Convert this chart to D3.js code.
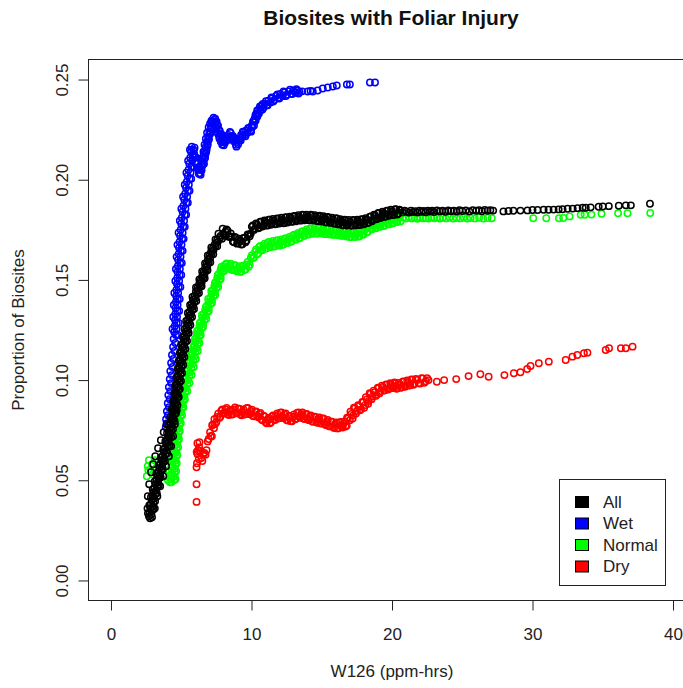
<!DOCTYPE html>
<html>
<head>
<meta charset="utf-8">
<script src="https://cdn.jsdelivr.net/npm/d3@7"></script>
<style>
body { margin:0; background:#fff; }
svg { display:block; font-family: "Liberation Sans", Arial, sans-serif; }
</style>
</head>
<body>
<svg id="drawing_region"></svg>
<script>
const categories = ["All", "Wet", "Normal", "Dry"];
const colors = ["#000000", "#0000ff", "#00ff00", "#ff0000"];
const xTicks = [0, 10, 20, 30, 40];
const yTicks = [0, 0.05, 0.10, 0.15, 0.20, 0.25];

// W126 (ppm-hrs), proportion of biosites
const allPts = [
 [2.6,.036],[2.62,.042],[2.72,.048],[2.85,.054],[3.0,.058],[3.15,.062],[3.35,.066],[3.55,.070],[3.75,.074],[3.95,.078],
 [3.12,.036],[3.3,.042],[3.5,.047],[3.72,.052],[3.92,.057],[4.12,.062],[4.28,.067],[4.42,.072],[4.55,.078],[4.68,.085],
 [2.78,.031],[2.70,.032],[2.88,.033],[2.74,.034],[2.92,.035],[2.80,.036],[2.98,.037],[2.84,.038],[3.02,.039],[2.90,.040],
 [3.08,.041],[2.96,.042],[3.14,.043],[3.02,.044],[3.22,.045],[3.08,.046],[3.28,.047],[3.16,.048],[3.36,.049],[3.24,.050],
 [3.42,.051],[3.30,.052],[3.48,.053],[3.36,.054],[3.56,.055],[3.44,.056],[3.64,.057],[3.52,.058],[3.72,.059],[3.60,.060],
 [3.80,.061],[3.68,.062],[3.88,.063],[3.76,.064],[3.96,.065],[3.84,.066],[4.04,.067],[3.94,.068],[4.10,.069],[4.00,.070],
 [4.16,.071],[4.06,.072],[4.22,.073],[4.12,.074],[4.28,.075],[4.18,.076],[4.34,.077],[4.24,.078],[4.40,.079],[4.30,.080],
 [4.46,.081],[4.36,.082],[4.50,.083],[4.40,.084],[4.56,.085],[4.46,.086],[4.60,.087],[4.50,.088],[4.66,.089],[4.54,.090],
 [4.70,.091],[4.58,.092],[4.74,.093],[4.62,.094],[4.78,.095],[4.66,.096],[4.82,.097],[4.70,.098],[4.86,.099],[4.74,.100],
 [4.90,.101],[4.78,.102],[4.94,.103],[4.82,.104],[4.98,.105],[4.86,.106],[5.02,.107],[4.90,.108],[5.06,.109],[4.94,.110],
 [5.10,.111],[4.98,.112],[5.14,.113],[5.02,.114],[5.18,.115],[5.06,.116],[5.22,.117],[5.12,.118],[5.28,.119],[5.18,.120],
 [5.34,.121],[5.24,.122],[5.40,.123],[5.30,.124],[5.46,.125],[5.36,.126],[5.52,.127],[5.42,.128],[5.58,.129],[5.48,.130],
 [5.64,.131],[5.54,.132],[5.70,.133],[5.60,.134],[5.78,.135],[5.68,.136],[5.86,.137],[5.76,.138],[5.94,.139],[5.84,.140],
 [6.02,.141],[5.94,.142],[6.12,.143],[6.04,.144],[6.22,.145],[6.16,.146],[6.34,.147],[6.28,.148],[6.46,.149],[6.40,.150],
 [6.56,.151],[6.50,.152],[6.66,.153],[6.60,.154],[6.76,.155],[6.70,.156],[6.86,.157],[6.80,.158],[6.96,.159],[6.90,.160],
 [7.06,.161],[7.00,.162],[7.16,.163],[7.12,.164],[7.30,.165],[7.26,.166],[7.44,.167],[7.40,.168],[7.60,.169],[7.56,.170],
 [7.76,.171],[7.80,.172],[8.00,.173],[8.15,.174],
 [2.92,.0315],[2.63,.0335],[3.04,.0355],[2.73,.0375],[3.14,.0395],[2.84,.0415],[3.26,.0435],[2.97,.0455],[3.40,.0475],[3.12,.0495],
 [3.54,.0515],[3.24,.0535],[3.68,.0555],[3.40,.0575],[3.84,.0595],[3.56,.0615],[4.00,.0635],[3.72,.0655],[4.17,.0675],[3.87,.0695],
 [4.29,.0715],[3.99,.0735],[4.41,.0755],[4.11,.0775],[4.53,.0795],[4.23,.0815],[4.63,.0835],[4.33,.0855],[4.73,.0875],[4.42,.0895],
 [4.82,.0915],[4.50,.0935],[4.90,.0955],[4.58,.0975],[4.98,.0995],[4.66,.1015],[5.06,.1035],[4.74,.1055],[5.14,.1075],[4.82,.1095],
 [5.22,.1115],[4.90,.1135],[5.30,.1155],[4.99,.1175],[5.41,.1195],[5.11,.1215],[5.53,.1235],[5.23,.1255],[5.65,.1275],[5.35,.1295],
 [5.77,.1315],[5.47,.1335],[5.91,.1355],[5.63,.1375],[6.07,.1395],[5.80,.1415],[6.26,.1435],[6.05,.1462],[6.45,.1468],[6.29,.1502],
 [6.67,.1508],[6.49,.1542],[6.87,.1548],[6.69,.1582],[7.07,.1588],[6.89,.1622],[7.28,.1628],[7.14,.1662],[7.56,.1668],[7.44,.1702],
 [7.90,.1705],[7.65,.1730],[7.95,.1755],[8.10,.1720],
 [8.30,.1745],[8.45,.1715],[8.60,.1716],[8.75,.1688],[8.90,.1709],[9.05,.1683],[9.20,.1696],[9.35,.1678],[9.50,.1710],[9.65,.1697],
 [9.80,.1726],[9.95,.1731],[10.10,.1772],[10.25,.1756],[10.40,.1776],[10.55,.1760],[10.70,.1790],[10.85,.1771],[11.00,.1791],[11.15,.1772],
 [11.30,.1800],[11.45,.1780],[11.60,.1797],[11.75,.1779],[11.90,.1806],[12.05,.1785],[12.20,.1803],[12.35,.1784],[12.50,.1812],[12.65,.1791],
 [12.80,.1809],[12.95,.1791],[13.10,.1818],[13.25,.1798],[13.40,.1816],[13.55,.1797],[13.70,.1824],[13.85,.1802],[14.00,.1818],[14.15,.1798],
 [14.30,.1823],[14.45,.1800],[14.60,.1815],[14.75,.1794],[14.90,.1818],[15.05,.1795],[15.20,.1809],[15.35,.1787],[15.50,.1812],[15.65,.1788],
 [15.80,.1802],[15.95,.1781],[16.10,.1805],[16.25,.1780],[16.40,.1794],[16.55,.1773],[16.70,.1798],[16.85,.1775],[17.00,.1791],[17.15,.1771],
 [17.30,.1798],[17.45,.1777],[17.60,.1794],[17.75,.1775],[17.90,.1802],[18.05,.1782],[18.20,.1802],[18.35,.1786],[18.50,.1817],[18.65,.1800],
 [18.80,.1821],[18.95,.1805],[19.10,.1834],[19.25,.1815],[19.40,.1834],[19.55,.1816],[19.70,.1845],[19.85,.1825],[20.00,.1843],[20.15,.1825],
 [20.30,.1852],[20.45,.1831],[20.60,.1847],
 [8.225,.1752],[8.375,.1715],[8.525,.1732],[8.675,.1692],[8.825,.1714],[8.975,.1681],[9.125,.1706],[9.275,.1677],[9.425,.1709],[9.575,.1688],
 [9.725,.1727],[9.875,.1718],[10.025,.1766],[10.175,.1749],[10.325,.1782],[10.475,.1758],[10.625,.1790],[10.775,.1766],[10.925,.1797],[11.075,.1771],
 [11.225,.1801],[11.375,.1775],[11.525,.1804],[11.675,.1778],[11.825,.1807],[11.975,.1781],[12.125,.1810],[12.275,.1783],[12.425,.1813],[12.575,.1786],
 [12.725,.1816],[12.875,.1790],[13.025,.1819],[13.175,.1793],[13.325,.1823],[13.475,.1796],[13.625,.1825],[13.775,.1798],[13.925,.1826],[14.075,.1798],
 [14.225,.1825],[14.375,.1796],[14.525,.1823],[14.675,.1794],[14.825,.1821],[14.975,.1791],[15.125,.1818],[15.275,.1788],[15.425,.1814],[15.575,.1785],
 [15.725,.1811],[15.875,.1781],[16.025,.1808],[16.175,.1777],[16.325,.1803],[16.475,.1773],[16.625,.1800],[16.775,.1771],[16.925,.1799],[17.075,.1771],
 [17.225,.1799],[17.375,.1772],[17.525,.1801],[17.675,.1774],[17.825,.1803],[17.975,.1777],[18.125,.1808],[18.275,.1784],[18.425,.1816],[18.575,.1793],
 [18.725,.1826],[18.875,.1803],[19.025,.1834],[19.175,.1809],[19.325,.1840],[19.475,.1815],[19.625,.1845],[19.775,.1820],[19.925,.1850],[20.075,.1824],
 [20.225,.1853],[20.375,.1826],[20.525,.1850],
 [20.75,.1838],[20.90,.1846],[21.05,.1840],[21.20,.1836],[21.35,.1845],[21.50,.1839],[21.65,.1843],[21.80,.1837],[21.95,.1846],[22.10,.1840],
 [22.25,.1844],[22.40,.1838],[22.55,.1846],[22.70,.1841],[22.85,.1845],[23.00,.1839],[23.20,.1847],[23.40,.1842],[23.60,.1846],[23.80,.1840],
 [24.00,.1847],[24.20,.1843],[24.40,.1846],[24.60,.1841],[24.80,.1848],[25.00,.1844],[25.25,.1847],[25.50,.1842],[25.75,.1848],[26.00,.1845],
 [26.20,.1848],[26.40,.1843],[26.60,.1849],[26.80,.1845],[27.00,.1848],[27.20,.1846],
 [27.93,.1842],[28.29,.1844],[28.64,.1845],[29.14,.1846],[29.64,.1847],[30.00,.1849],[30.36,.1849],[30.79,.1850],[31.14,.1850],[31.50,.1851],
 [31.86,.1852],[32.14,.1853],[32.50,.1855],[32.86,.1856],[33.21,.1858],[33.57,.1860],[33.79,.1860],[34.14,.1862],[34.71,.1865],[35.00,.1866],
 [35.43,.1868],[36.14,.1870],[36.64,.1872],[37.00,.1872],[38.36,.1880]
];

const wetPts = [
 [3.90,.0765],[4.00,.0785],[3.92,.0805],[4.05,.0825],[3.98,.0845],[4.12,.0865],[4.04,.0885],[4.18,.0905],[4.08,.0925],[4.22,.0945],
 [4.12,.0965],[4.28,.0985],[4.18,.1005],[4.32,.1025],[4.22,.1045],[4.38,.1065],[4.28,.1085],[4.44,.1105],[4.34,.1125],[4.52,.1145],
 [4.42,.1165],[4.58,.1185],[4.46,.1205],[4.62,.1225],[4.50,.1240],[4.66,.1255],[4.54,.1270],[4.68,.1285],[4.56,.1300],[4.70,.1315],
 [4.58,.1330],[4.72,.1345],[4.60,.1360],[4.74,.1375],[4.62,.1390],[4.76,.1405],[4.64,.1420],[4.78,.1435],[4.66,.1450],[4.82,.1465],
 [4.70,.1480],[4.85,.1495],[4.72,.1510],[4.88,.1525],[4.74,.1540],[4.90,.1555],[4.76,.1570],[4.92,.1585],[4.78,.1600],[4.95,.1615],
 [4.82,.1630],[4.98,.1645],[4.84,.1660],[5.02,.1675],[4.88,.1690],[5.06,.1705],[4.92,.1720],[5.10,.1735],[4.96,.1750],[5.14,.1765],
 [5.00,.1780],[5.20,.1795],[5.04,.1810],[5.25,.1825],[5.10,.1840],[5.30,.1855],[5.16,.1870],[5.36,.1885],[5.22,.1900],[5.42,.1915],
 [5.28,.1930],[5.48,.1945],[5.34,.1960],[5.54,.1975],[5.40,.1990],[5.60,.2005],[5.46,.2020],[5.66,.2035],[5.52,.2050],[5.72,.2065],
 [5.58,.2080],[5.78,.2095],[5.64,.2110],[5.80,.2125],[5.70,.2140],[5.85,.2150],
 [4.76,.1225],[4.38,.1255],[4.82,.1285],[4.43,.1315],[4.85,.1345],[4.47,.1375],[4.89,.1405],[4.51,.1435],[4.94,.1465],[4.58,.1495],
 [5.00,.1525],[4.62,.1555],[5.04,.1585],[4.67,.1615],[5.10,.1645],[4.73,.1675],[5.17,.1705],[4.81,.1735],[5.25,.1765],[4.90,.1795],
 [5.35,.1825],[5.01,.1855],[5.47,.1885],[5.13,.1915],[5.59,.1945],[5.25,.1975],[5.71,.2005],[5.37,.2035],[5.83,.2065],[5.49,.2095],
 [5.93,.2125],[5.62,.2150],[5.75,.2165],[5.88,.2128],
 [5.90,.2146],[5.97,.2112],[6.03,.2113],[6.08,.2080],[6.14,.2080],[6.20,.2050],[6.27,.2056],[6.34,.2032],[6.40,.2054],[6.45,.2047],
 [6.49,.2068],[6.55,.2080],[6.52,.2093],[6.64,.2104],[6.60,.2116],[6.73,.2128],[6.68,.2140],[6.81,.2152],[6.75,.2165],[6.89,.2178],
 [6.83,.2190],[6.97,.2203],[6.91,.2215],[7.05,.2228],[7.00,.2240],[7.14,.2252],[7.10,.2264],[7.25,.2275],[7.24,.2291],[7.35,.2298],
 [7.42,.2280],[7.46,.2290],[7.55,.2272],[7.52,.2258],[7.67,.2250],[7.58,.2236],[7.78,.2226],[7.70,.2216],[7.87,.2208],[7.95,.2187],
 [5.95,.2160],[6.00,.2090],[6.12,.2060],[6.25,.2030],[6.38,.2025],[6.32,.2060],
 [6.62,.2080],[6.42,.2075],[6.70,.2110],[6.50,.2110],[6.78,.2140],[6.58,.2140],[6.86,.2170],[6.66,.2175],[6.95,.2200],[6.75,.2205],
 [7.04,.2230],[6.84,.2235],[7.12,.2258],[6.95,.2262],[7.18,.2290],[7.05,.2280],[7.30,.2310],[7.15,.2295],
 [7.42,.2305],[7.52,.2290],[7.62,.2270],[7.74,.2245],[7.85,.2228],[7.92,.2210],[7.62,.2230],[7.72,.2205],[7.82,.2190],[7.92,.2175],
 [8.03,.2172],[8.10,.2205],
 [8.03,.2198],[8.11,.2185],[8.19,.2208],[8.27,.2200],[8.35,.2224],[8.43,.2215],[8.52,.2234],[8.60,.2212],[8.67,.2218],[8.74,.2192],
 [8.81,.2198],[8.89,.2174],[8.97,.2188],[9.05,.2177],[9.12,.2203],[9.19,.2197],[9.26,.2223],[9.34,.2215],[9.43,.2236],[9.52,.2225],
 [9.62,.2246],[9.72,.2235],[9.82,.2256],[9.92,.2246],[10.01,.2270],[10.08,.2264],[10.14,.2292],[10.22,.2290],[10.22,.2304],[10.33,.2316],
 [10.34,.2330],[10.48,.2331],[10.54,.2352],[10.66,.2347],[10.72,.2368],[10.86,.2360],[10.95,.2380],[11.09,.2372],[11.20,.2394],[11.35,.2386],
 [11.47,.2406],[11.63,.2398],[11.75,.2418],[11.92,.2409],[12.05,.2428],[12.22,.2417],[12.35,.2436],[12.52,.2424],[12.65,.2441],[12.82,.2429],
 [12.97,.2445],[13.12,.2434],[13.27,.2446],[13.42,.2438],
 [8.15,.2211],[8.31,.2198],[8.47,.2239],[8.63,.2203],[8.78,.2209],[8.93,.2165],[9.08,.2199],[9.23,.2196],[9.38,.2240],[9.57,.2217],
 [9.77,.2259],[9.97,.2240],[10.11,.2290],[10.18,.2270],[10.28,.2322],[10.30,.2295],[10.41,.2346],[10.42,.2315],[10.60,.2366],[10.53,.2330],
 [10.80,.2378],[10.78,.2350],[11.03,.2392],[11.15,.2372],[11.42,.2410],[11.55,.2390],[11.84,.2426],[11.98,.2405],[12.28,.2440],[12.45,.2418],
 [12.74,.2449],[12.90,.2428],[13.20,.2452],[13.35,.2430],
 [13.60,.2441],[14.00,.2440],[14.20,.2443],[14.36,.2440],[14.71,.2445],[15.07,.2455],[15.43,.2460],[15.79,.2465],[16.07,.2470],[16.79,.2475],
 [17.00,.2475],[18.43,.2485],[18.79,.2485]
];

const normalPts = [
 [2.55,.052],[2.62,.057],[2.70,.060],[2.66,.055],[2.82,.055],[2.92,.058],[2.95,.053],[3.10,.060],[3.20,.056],[3.35,.059],
 [3.50,.058],[3.70,.055],[3.90,.052],[4.05,.050],[4.20,.049],[4.15,.054],[3.95,.058],
 [4.30,.049],[4.50,.050],[4.31,.051],[4.52,.052],[4.33,.053],[4.54,.054],[4.35,.055],[4.56,.056],[4.37,.057],[4.58,.058],
 [4.39,.059],[4.60,.060],[4.42,.061],[4.63,.062],[4.44,.063],[4.65,.064],[4.47,.065],[4.68,.066],[4.50,.067],[4.71,.068],
 [4.53,.069],[4.75,.070],[4.56,.071],[4.78,.072],[4.59,.073],[4.81,.074],[4.62,.075],[4.84,.076],[4.65,.077],[4.87,.078],
 [4.68,.079],[4.90,.080],[4.72,.081],[4.95,.082],[4.78,.083],[5.00,.084],[4.82,.085],[5.05,.086],[4.88,.087],[5.10,.088],
 [4.93,.089],[5.15,.090],[5.00,.091],[5.22,.092],[5.06,.093],[5.29,.094],[5.13,.095],[5.36,.096],[5.20,.097],[5.43,.098],
 [5.27,.099],[5.50,.100],[5.34,.101],[5.57,.102],[5.41,.103],[5.65,.104],[5.49,.105],[5.72,.106],[5.56,.107],[5.80,.108],
 [5.64,.109],[5.87,.110],[5.71,.111],[5.95,.112],[5.79,.113],[6.02,.114],[5.86,.115],[6.10,.116],[5.93,.117],[6.16,.118],
 [5.99,.119],[6.22,.120],[6.06,.121],[6.28,.122],[6.12,.123],[6.35,.124],[6.21,.125],[6.45,.126],[6.30,.127],[6.55,.128],
 [6.40,.129],[6.65,.130],[6.50,.131],[6.75,.132],[6.60,.133],[6.85,.134],[6.70,.135],[6.95,.136],[6.82,.137],[7.07,.138],
 [6.94,.139],[7.18,.140],[7.06,.141],[7.30,.142],[7.16,.143],[7.40,.144],[7.26,.145],[7.50,.146],[7.36,.147],[7.60,.148],
 [7.46,.149],[7.70,.150],[7.56,.151],[7.80,.152],[7.67,.153],[7.90,.154],[7.80,.155],[8.05,.156],[8.00,.157],
 [4.60,.0505],[4.24,.0525],[4.64,.0545],[4.28,.0565],[4.68,.0585],[4.34,.0605],[4.72,.0625],[4.38,.0645],[4.78,.0665],[4.44,.0685],
 [4.84,.0705],[4.50,.0725],[4.90,.0745],[4.56,.0765],[4.97,.0785],[4.65,.0805],[5.06,.0825],[4.74,.0845],[5.15,.0865],[4.84,.0885],
 [5.26,.0905],[4.98,.0925],[5.43,.0945],[5.12,.0965],[5.59,.0985],[5.27,.1005],[5.74,.1025],[5.41,.1045],[5.89,.1065],[5.56,.1085],
 [6.04,.1105],[5.70,.1125],[6.18,.1145],[5.87,.1165],[6.29,.1185],[5.97,.1205],[6.39,.1225],[6.12,.1245],[6.55,.1265],[6.32,.1285],
 [6.78,.1305],[6.47,.1325],[6.96,.1345],[6.75,.1365],[7.19,.1385],[6.92,.1405],[7.42,.1425],[7.14,.1445],[7.63,.1465],[7.40,.1485],
 [7.81,.1505],[7.60,.1525],[8.05,.1545],[7.85,.1565],
 [8.15,.1577],[8.30,.1560],[8.45,.1574],[8.60,.1551],[8.75,.1573],[8.90,.1548],[9.05,.1561],[9.20,.1541],[9.35,.1567],[9.50,.1551],
 [9.65,.1577],[9.80,.1566],[9.95,.1611],[10.10,.1608],[10.25,.1640],[10.40,.1628],[10.55,.1664],[10.70,.1649],[10.85,.1670],[11.00,.1656],
 [11.15,.1685],[11.30,.1666],[11.45,.1685],[11.60,.1667],[11.75,.1695],[11.90,.1674],[12.05,.1692],[12.20,.1675],[12.35,.1704],[12.50,.1685],
 [12.65,.1706],[12.80,.1690],[12.95,.1721],[13.10,.1703],[13.25,.1724],[13.40,.1708],[13.55,.1739],[13.70,.1721],[13.85,.1742],[14.00,.1726],
 [14.15,.1754],[14.30,.1733],[14.45,.1751],[14.60,.1731],[14.75,.1757],[14.90,.1735],[15.05,.1751],[15.20,.1729],[15.35,.1754],[15.50,.1730],
 [15.65,.1746],[15.80,.1725],[15.95,.1750],[16.10,.1727],[16.25,.1742],[16.40,.1720],[16.55,.1745],[16.70,.1721],[16.85,.1736],[17.00,.1714],
 [17.15,.1740],[17.30,.1718],[17.45,.1734],[17.60,.1716],[17.75,.1745],[17.90,.1727],[18.05,.1749],[18.20,.1736],[18.35,.1770],[18.50,.1755],
 [18.65,.1774],[18.80,.1757],[18.95,.1786],[19.10,.1767],[19.25,.1786],[19.40,.1769],[19.55,.1798],[19.70,.1779],[19.85,.1798],[20.00,.1781],
 [20.15,.1810],[20.30,.1791],[20.45,.1810],[20.60,.1792],
 [8.225,.1582],[8.375,.1555],[8.525,.1581],[8.675,.1549],[8.825,.1574],[8.975,.1542],[9.125,.1569],[9.275,.1541],[9.425,.1572],[9.575,.1552],
 [9.725,.1589],[9.875,.1576],[10.025,.1623],[10.175,.1612],[10.325,.1652],[10.475,.1633],[10.625,.1670],[10.775,.1648],[10.925,.1681],[11.075,.1658],
 [11.225,.1689],[11.375,.1664],[11.525,.1694],[11.675,.1668],[11.825,.1698],[11.975,.1671],[12.125,.1702],[12.275,.1677],[12.425,.1708],[12.575,.1684],
 [12.725,.1716],[12.875,.1693],[13.025,.1725],[13.175,.1702],[13.325,.1734],[13.475,.1711],[13.625,.1743],[13.775,.1720],[13.925,.1752],[14.075,.1727],
 [14.225,.1757],[14.375,.1730],[14.525,.1759],[14.675,.1731],[14.825,.1759],[14.975,.1731],[15.125,.1758],[15.275,.1729],[15.425,.1755],[15.575,.1726],
 [15.725,.1754],[15.875,.1725],[16.025,.1752],[16.175,.1723],[16.325,.1749],[16.475,.1720],[16.625,.1746],[16.775,.1717],[16.925,.1743],[17.075,.1714],
 [17.225,.1742],[17.375,.1714],[17.525,.1743],[17.675,.1718],[17.825,.1749],[17.975,.1726],[18.125,.1761],[18.275,.1740],[18.425,.1776],[18.575,.1753],
 [18.725,.1784],[18.875,.1759],[19.025,.1790],[19.175,.1765],[19.325,.1796],[19.475,.1771],[19.625,.1802],[19.775,.1777],[19.925,.1808],[20.075,.1783],
 [20.225,.1814],[20.375,.1789],[20.525,.1819],
 [20.80,.1812],[21.00,.1806],[21.20,.1813],[21.40,.1807],[21.60,.1811],[21.80,.1805],[22.00,.1812],[22.20,.1807],[22.40,.1810],[22.60,.1806],
 [22.80,.1812],[23.00,.1808],[23.20,.1811],[23.40,.1806],[23.60,.1810],[23.85,.1807],[24.10,.1811],[24.35,.1806],[24.60,.1809],[24.85,.1807],
 [25.10,.1811],[25.35,.1806],[25.60,.1809],[25.90,.1807],[26.20,.1810],[26.50,.1806],[26.80,.1809],[27.10,.1808],
 [30.05,.1808],[30.98,.1808],[31.88,.1808],[32.19,.1809],[32.64,.1817],[33.43,.1825],[33.71,.1825],[34.19,.1826],[34.91,.1830],[36.09,.1833],
 [36.76,.1833],[38.38,.1834]
];

const dryPts = [
 [6.09,.0392],[6.09,.0480],[6.09,.0565],[6.12,.0585],[6.25,.0605],[6.30,.0690],[6.15,.0685],
 [6.10,.0642],[6.20,.0650],[6.35,.0646],[6.50,.0596],[6.65,.0637],[6.80,.0650],[6.95,.0706],[7.10,.0721],[7.25,.0777],[7.40,.0780],
 [7.55,.0816],[7.70,.0811],[7.85,.0847],[8.00,.0835],[8.15,.0854],[8.30,.0831],[8.45,.0847],[8.60,.0828],[8.75,.0854],[8.90,.0836],
 [9.05,.0857],[9.20,.0830],[9.35,.0841],[9.50,.0828],[9.65,.0860],[9.80,.0835],[9.95,.0846],[10.10,.0821],[10.25,.0842],[10.40,.0820],
 [10.55,.0831],[10.70,.0804],[10.85,.0822],[11.00,.0790],[11.15,.0801],[11.30,.0784],[11.45,.0817],[11.60,.0802],[11.75,.0824],[11.90,.0808],
 [12.05,.0837],[12.20,.0815],[12.35,.0828],[12.50,.0801],[12.65,.0820],[12.80,.0795],[12.95,.0816],[13.10,.0804],[13.25,.0836],[13.40,.0816],
 [13.55,.0831],[13.70,.0808],[13.85,.0830],[14.00,.0805],[14.15,.0818],[14.30,.0794],[14.45,.0816],[14.60,.0792],[14.75,.0806],[14.90,.0784],
 [15.05,.0807],[15.20,.0782],[15.35,.0794],[15.50,.0771],[15.65,.0792],[15.80,.0766],[15.95,.0780],[16.10,.0759],[16.25,.0787],[16.40,.0768],
 [16.55,.0782],[16.70,.0768],[16.85,.0807],[17.00,.0800],[17.12,.0831],[17.24,.0824],[17.36,.0860],[17.50,.0846],[17.65,.0868],[17.80,.0854],
 [17.95,.0888],[18.10,.0876],[18.22,.0904],[18.34,.0896],[18.48,.0932],[18.62,.0918],[18.76,.0940],[18.90,.0926],[19.05,.0960],[19.20,.0945],
 [19.35,.0966],[19.50,.0949],[19.65,.0977],[19.80,.0958],[19.95,.0978],[20.10,.0961],[20.25,.0984],[20.40,.0960],[20.55,.0980],[20.70,.0964],
 [20.85,.0992],[21.00,.0972],[21.15,.0991],[21.30,.0974],[21.45,.1002],[21.60,.0982],[21.80,.1001],[22.00,.0983],[22.20,.1008],[22.40,.0994],
 [22.60,.1000],
 [6.15,.0631],[6.28,.0664],[6.43,.0611],[6.58,.0631],[6.73,.0628],[6.88,.0694],
 [7.05,.0740],[7.18,.0720],[7.20,.0775],[7.33,.0760],[7.36,.0805],[7.50,.0790],
 [7.63,.0832],[7.78,.0816],[7.93,.0854],[8.08,.0833],[8.23,.0861],[8.38,.0826],[8.53,.0851],[8.68,.0829],[8.83,.0863],[8.98,.0834],
 [9.13,.0857],[9.28,.0824],[9.43,.0853],[9.58,.0831],[9.73,.0861],[9.88,.0829],[10.03,.0852],[10.18,.0819],[10.33,.0844],[10.48,.0814],
 [10.63,.0836],[10.78,.0800],[10.93,.0819],[11.08,.0784],[11.23,.0811],[11.38,.0788],[11.53,.0823],[11.68,.0801],[11.83,.0834],[11.98,.0810],
 [12.13,.0839],[12.28,.0810],[12.43,.0833],[12.58,.0798],[12.73,.0821],[12.88,.0794],[13.03,.0828],[13.18,.0807],[13.33,.0839],[13.48,.0812],
 [13.63,.0838],[13.78,.0806],[13.93,.0831],[14.08,.0800],[14.23,.0824],[14.38,.0792],[14.53,.0817],[14.68,.0787],[14.83,.0813],[14.98,.0783],
 [15.13,.0808],[15.28,.0776],[15.43,.0801],[15.58,.0769],[15.73,.0792],[15.88,.0761],[16.03,.0788],[16.18,.0760],[16.33,.0791],[16.48,.0763],
 [16.63,.0793],[16.78,.0774],
 [16.80,.0812],[17.20,.0808],[17.04,.0842],[17.44,.0833],[17.29,.0862],[17.72,.0849],[17.59,.0875],[18.02,.0862],[17.89,.0891],[18.30,.0882],
 [18.14,.0914],[18.55,.0905],[18.41,.0934],[18.83,.0921],[18.69,.0947],[19.12,.0934],[18.99,.0962],
 [19.28,.0972],[19.43,.0948],[19.58,.0978],[19.73,.0953],[19.88,.0984],[20.03,.0960],[20.18,.0988],[20.33,.0957],[20.48,.0986],[20.63,.0962],
 [20.78,.0993],[20.93,.0967],[21.08,.0998],[21.23,.0973],[21.38,.1003],[21.53,.0977],[21.70,.1006],[21.90,.0984],[22.10,.1010],[22.30,.0987],
 [22.50,.1010],
 [23.19,.0992],[23.71,.1000],[24.57,.1005],[25.45,.1020],[26.29,.1029],[26.88,.1017],[28.00,.1025],[28.67,.1034],[29.14,.1039],[29.62,.1055],
 [29.86,.1070],[30.45,.1084],[31.16,.1092],[32.36,.1100],[32.84,.1117],[33.19,.1125],[33.66,.1134],[33.91,.1137],[35.21,.1150],[35.45,.1159],
 [36.29,.1159],[36.64,.1159],[37.12,.1167]
];

const series = [allPts, wetPts, normalPts, dryPts];
const drawOrder = [1, 2, 3, 0];

const svg = d3.select('#drawing_region')
    .attr('width', 683)
    .attr('height', 688);

svg.append('rect').attr('width', 683).attr('height', 688).attr('fill', '#fff');

const xscale = d3.scaleLinear().domain([-1.6, 41.6]).range([88.5, 695.5]);
const yscale = d3.scaleLinear().domain([-0.01, 0.26]).range([600.5, 59.5]);

// points
drawOrder.forEach(i => {
    svg.append('g').selectAll('circle')
	.data(series[i])
	.join('circle')
	.attr('cx', d => xscale(d[0]))
	.attr('cy', d => yscale(d[1]))
	.attr('r', 3.2)
	.attr('fill', 'none')
	.attr('stroke', colors[i])
	.attr('stroke-width', 1.5);
});

// box
svg.append('rect')
    .attr('x', 88.5).attr('y', 59.5)
    .attr('width', 620).attr('height', 541)
    .attr('fill', 'none').attr('stroke', '#222');

// axes
const xaxis = d3.axisBottom(xscale).tickValues(xTicks).tickSize(10).tickFormat(d3.format('d'));
const xg = svg.append('g').attr('transform', 'translate(0,600.5)').call(xaxis);
xg.select('.domain').remove();
xg.selectAll('line').attr('stroke', '#222');
xg.selectAll('text').attr('y', 39.5).attr('dy', null)
    .attr('font-size', 17).attr('font-family', '"Liberation Sans", Arial, sans-serif').attr('fill', '#222');

const yaxis = d3.axisLeft(yscale).tickValues(yTicks).tickSize(10).tickFormat(d3.format('.2f'));
const yg = svg.append('g').attr('transform', 'translate(88.5,0)').call(yaxis);
yg.select('.domain').remove();
yg.selectAll('line').attr('stroke', '#222');
yg.selectAll('text')
    .attr('transform', 'rotate(-90)')
    .attr('x', 0).attr('y', -21).attr('dy', null)
    .attr('text-anchor', 'middle')
    .attr('font-size', 17).attr('font-family', '"Liberation Sans", Arial, sans-serif').attr('fill', '#222');

// titles
svg.append('text').attr('x', 391).attr('y', 25)
    .attr('text-anchor', 'middle').attr('font-size', 21).attr('font-weight', 'bold')
    .attr('fill', '#111').text('Biosites with Foliar Injury');

svg.append('text').attr('x', 392).attr('y', 677)
    .attr('text-anchor', 'middle').attr('font-size', 17).attr('fill', '#222')
    .text('W126 (ppm-hrs)');

svg.append('text').attr('transform', 'translate(24,330) rotate(-90)')
    .attr('text-anchor', 'middle').attr('font-size', 17).attr('fill', '#222')
    .text('Proportion of Biosites');

// legend
const legend = svg.append('g');
legend.append('rect')
    .attr('x', 559.5).attr('y', 479.5).attr('width', 106).attr('height', 106)
    .attr('fill', '#fff').attr('stroke', '#222');
const rows = legend.selectAll('g.row')
    .data(categories)
    .join('g')
    .attr('class', 'row')
    .attr('transform', (d, i) => `translate(0, ${502 + i * 21.5})`);
rows.append('rect')
    .attr('x', 575.5).attr('y', -5.5).attr('width', 13).attr('height', 11)
    .attr('fill', (d, i) => colors[i]).attr('stroke', '#000');
rows.append('text')
    .attr('x', 603).attr('y', 0).attr('dy', '0.35em')
    .attr('font-size', 17).attr('fill', '#222')
    .text(d => d);
</script>
</body>
</html>
